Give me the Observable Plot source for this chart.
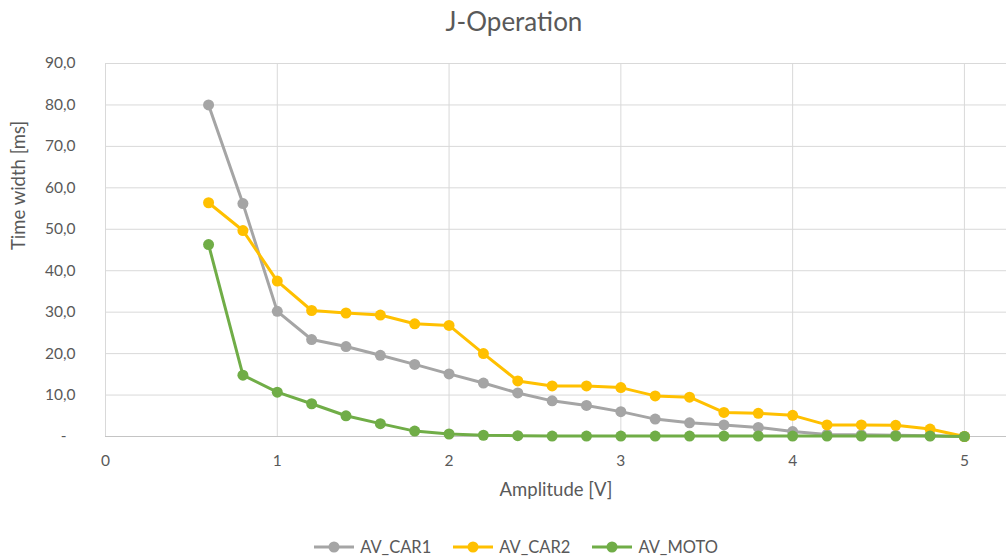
<!DOCTYPE html>
<html><head><meta charset="utf-8">
<script src="https://cdn.jsdelivr.net/npm/d3@7"></script>
<script src="https://cdn.jsdelivr.net/npm/@observablehq/plot@0.6"></script>
<style>
body{margin:0;background:#fff;font-family:Lato,sans-serif;color:#595959;}
#title{width:1006px;height:40px;line-height:42px;font-size:26px;text-align:center;padding-left:22px;box-sizing:border-box;}
#chart svg{display:block;}
#legend{width:1006px;height:74px;display:flex;justify-content:center;align-items:center;gap:22px;padding-left:26px;box-sizing:border-box;font-size:16.5px;}
.item{display:flex;align-items:center;gap:6px;}
</style></head>
<body>
<div id="title"></div>
<div id="chart"></div>
<div id="legend"></div>
<script>
const chartTitle = "J-Operation";
const xLabel = "Amplitude [V]";
const yLabel = "Time width [ms]";
const amplitude = [0.6,0.8,1.0,1.2,1.4,1.6,1.8,2.0,2.2,2.4,2.6,2.8,3.0,3.2,3.4,3.6,3.8,4.0,4.2,4.4,4.6,4.8,5.0];
const avCar1 = [80.0,56.2,30.2,23.4,21.7,19.6,17.4,15.1,12.9,10.5,8.6,7.5,6.0,4.2,3.3,2.8,2.2,1.2,0.5,0.4,0.3,0.2,0.0];
const avCar2 = [56.4,49.7,37.5,30.4,29.8,29.3,27.2,26.8,20.0,13.4,12.2,12.2,11.8,9.8,9.5,5.8,5.6,5.1,2.8,2.8,2.7,1.8,0.0];
const avMoto = [46.3,14.8,10.7,7.9,5.0,3.1,1.3,0.6,0.3,0.2,0.1,0.1,0.1,0.1,0.1,0.1,0.1,0.1,0.1,0.1,0.1,0.1,0.0];
const seriesNames = ["AV_CAR1","AV_CAR2","AV_MOTO"];
const seriesColors = ["#A5A5A5","#FFC000","#70AD47"];
const xTicks = [0,1,2,3,4,5];
const yTicks = [0,10,20,30,40,50,60,70,80,90];

const seriesValues = [avCar1, avCar2, avMoto];
const series = seriesNames.map((name, i) => ({
  name, color: seriesColors[i],
  rows: amplitude.map((x, j) => ({x, y: seriesValues[i][j]}))
}));

document.getElementById("title").textContent = chartTitle;

const marks = [
  Plot.ruleY(yTicks, {stroke: "#d9d9d9", strokeWidth: 1}),
  Plot.ruleX(xTicks, {stroke: "#d9d9d9", strokeWidth: 1}),
  Plot.ruleY([0], {stroke: "#c4c4c4", strokeWidth: 1.2})
];
for (const s of series) {
  marks.push(Plot.line(s.rows, {x: "x", y: "y", stroke: s.color, strokeWidth: 3, strokeLinejoin: "round"}));
  marks.push(Plot.dot(s.rows, {x: "x", y: "y", fill: s.color, r: 5.5}));
}
marks.push(
  Plot.axisX({ticks: xTicks, tickSize: 0, tickPadding: 18, fontSize: 15.5, label: null, tickFormat: d => String(d)}),
  Plot.axisY({ticks: yTicks, tickSize: 0, tickPadding: 30, fontSize: 15.5, label: null,
    tickFormat: d => d === 0 ? "-\u2007" : d.toFixed(1).replace(".", ",")}),
  Plot.text([xLabel], {frameAnchor: "bottom", dy: 59, fontSize: 18.5, fill: "#595959"}),
  Plot.text([yLabel], {frameAnchor: "left", dx: -86, rotate: -90, fontSize: 18.5, fill: "#595959"})
);

const chart = Plot.plot({
  width: 1006, height: 470,
  marginTop: 23, marginBottom: 74, marginLeft: 105, marginRight: 0,
  x: {domain: [0, 5.245]},
  y: {domain: [0, 90]},
  style: {fontFamily: "Lato, sans-serif", color: "#595959", background: "#fff"},
  marks
});
document.getElementById("chart").appendChild(chart);

const legend = document.getElementById("legend");
for (const s of series) {
  const item = document.createElement("div");
  item.className = "item";
  item.innerHTML = `<svg width="40" height="14"><line x1="0" x2="40" y1="7" y2="7" stroke="${s.color}" stroke-width="3"/><circle cx="20" cy="7" r="5.5" fill="${s.color}"/></svg><span>${s.name}</span>`;
  legend.appendChild(item);
}
</script>
</body></html>
